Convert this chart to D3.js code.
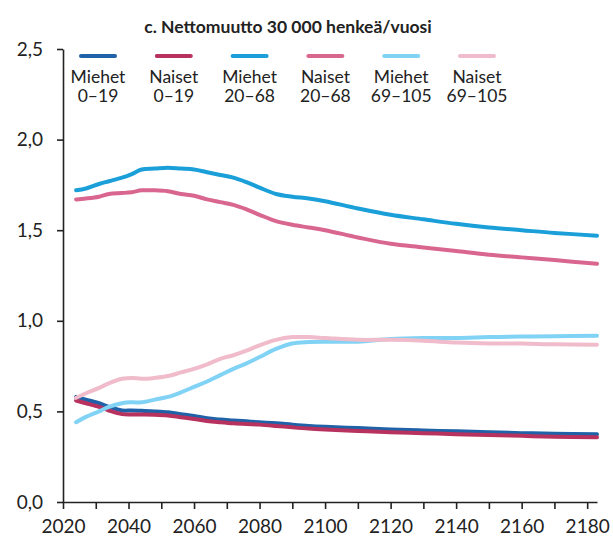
<!DOCTYPE html>
<html>
<head>
<meta charset="utf-8">
<style>
  body { margin: 0; background: #fff; }
  text { font-family: Lato, 'Open Sans', sans-serif; fill: #222; }
  .axis path, .axis line { stroke: #222; stroke-width: 1.6; }
</style>
</head>
<body>
<svg width="613" height="541"></svg>
<script src="https://cdn.jsdelivr.net/npm/d3@7"></script>
<script>
var years = [2024, 2027, 2031, 2034, 2038, 2041, 2044, 2048, 2052, 2056, 2060, 2064, 2068, 2072,
  2076, 2080, 2085, 2090, 2095, 2100, 2110, 2120, 2130, 2140, 2150, 2160, 2170, 2183];

// share values per group
var miehet019 = [0.58, 0.565, 0.545, 0.525, 0.505, 0.505, 0.503, 0.50, 0.495, 0.485, 0.475, 0.462, 0.455, 0.45,
  0.445, 0.44, 0.435, 0.427, 0.42, 0.415, 0.408, 0.40, 0.395, 0.39, 0.385, 0.38, 0.377, 0.374];
var naiset019 = [0.56, 0.545, 0.525, 0.505, 0.485, 0.483, 0.483, 0.482, 0.478, 0.468, 0.458, 0.447, 0.44, 0.434,
  0.43, 0.427, 0.42, 0.412, 0.405, 0.40, 0.392, 0.385, 0.38, 0.374, 0.37, 0.365, 0.36, 0.357];
var miehet2068 = [1.72, 1.73, 1.755, 1.77, 1.79, 1.81, 1.835, 1.84, 1.845, 1.84, 1.835, 1.82, 1.805, 1.79,
  1.765, 1.735, 1.70, 1.685, 1.675, 1.66, 1.62, 1.585, 1.56, 1.535, 1.515, 1.50, 1.485, 1.47];
var naiset2068 = [1.67, 1.675, 1.685, 1.70, 1.705, 1.71, 1.72, 1.72, 1.715, 1.70, 1.69, 1.67, 1.655, 1.64,
  1.615, 1.585, 1.55, 1.53, 1.515, 1.50, 1.46, 1.425, 1.405, 1.385, 1.365, 1.35, 1.335, 1.315];
var miehet69 = [0.44, 0.47, 0.50, 0.525, 0.545, 0.55, 0.55, 0.565, 0.58, 0.605, 0.635, 0.665, 0.70, 0.735,
  0.765, 0.80, 0.845, 0.875, 0.883, 0.885, 0.885, 0.90, 0.905, 0.905, 0.91, 0.913, 0.915, 0.917];
var naiset69 = [0.575, 0.60, 0.63, 0.655, 0.68, 0.685, 0.68, 0.685, 0.695, 0.715, 0.735, 0.76, 0.79, 0.81,
  0.835, 0.865, 0.895, 0.91, 0.91, 0.905, 0.895, 0.895, 0.89, 0.88, 0.875, 0.875, 0.87, 0.868];

var seriesNames = [['Miehet', '0–19'], ['Naiset', '0–19'], ['Miehet', '20–68'],
  ['Naiset', '20–68'], ['Miehet', '69–105'], ['Naiset', '69–105']];
var seriesValues = [miehet019, naiset019, miehet2068, naiset2068, miehet69, naiset69];
var colors = ['#1f62a8', '#b8325f', '#1a9fd9', '#d9668f', '#80d3f4', '#f0bccb'];

var yTicks = [0, 0.5, 1, 1.5, 2, 2.5];
var xMinorTicks = d3.range(2020, 2181, 10);

var svg = d3.select('svg');
var mLeft = 63, mRight = 597, mTop = 49, mBottom = 502;

var x = d3.scaleLinear().domain([2020, 2183]).range([mLeft, mRight]);
var y = d3.scaleLinear().domain([0, 2.5]).range([mBottom, mTop]);

// title
svg.append('text')
  .attr('x', 288).attr('y', 33)
  .attr('text-anchor', 'middle')
  .style('font-weight', 'bold')
  .style('font-size', '17.5px')
  .text('c. Nettomuutto 30 000 henkeä/vuosi');

// axes
var fmt = function (d) { return d3.format('.1f')(d).replace('.', ','); };
svg.append('g').attr('class', 'axis')
  .attr('transform', 'translate(' + mLeft + ',0)')
  .call(d3.axisLeft(y).tickValues(yTicks).tickFormat(fmt).tickSize(6).tickSizeOuter(0).tickPadding(14));
svg.append('g').attr('class', 'axis')
  .attr('transform', 'translate(0,' + mBottom + ')')
  .call(d3.axisBottom(x).tickValues(xMinorTicks)
    .tickFormat(function (d) { return d % 20 === 0 ? d : ''; })
    .tickSize(7).tickSizeOuter(0).tickPadding(11));
svg.selectAll('.axis text').style('font-size', '19px').style('font-family', 'Lato, sans-serif').attr('fill', '#222');
svg.selectAll('.axis .domain').attr('stroke', '#222');

// lines
var line = d3.line()
  .x(function (d, i) { return x(years[i]); })
  .y(function (d) { return y(d); })
  .curve(d3.curveCatmullRom.alpha(0.5));

svg.append('g').selectAll('path')
  .data(seriesValues)
  .enter().append('path')
  .attr('d', line)
  .attr('fill', 'none')
  .attr('stroke', function (d, i) { return colors[i]; })
  .attr('stroke-width', 4)
  .attr('stroke-linecap', 'round')
  .attr('stroke-linejoin', 'round');

// legend
var legendX = d3.scalePoint().domain(d3.range(6)).range([98, 477]);
var lg = svg.append('g').selectAll('g')
  .data(seriesNames)
  .enter().append('g')
  .attr('transform', function (d, i) { return 'translate(' + legendX(i) + ',0)'; });
lg.append('line')
  .attr('x1', -17).attr('x2', 17).attr('y1', 56).attr('y2', 56)
  .attr('stroke', function (d, i) { return colors[i]; })
  .attr('stroke-width', 4)
  .attr('stroke-linecap', 'round');
lg.append('text')
  .attr('y', 83).attr('text-anchor', 'middle')
  .style('font-size', '17.5px')
  .text(function (d) { return d[0]; });
lg.append('text')
  .attr('y', 102).attr('text-anchor', 'middle')
  .style('font-size', '17.5px')
  .text(function (d) { return d[1]; });
</script>
</body>
</html>
